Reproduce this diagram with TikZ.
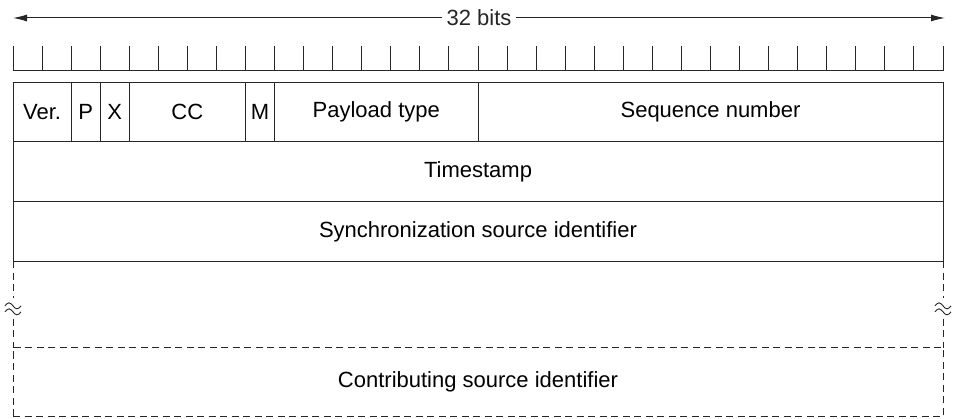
\documentclass[tikz,border=0pt]{standalone}
\usepackage{fontspec}
\setmainfont{Liberation Sans}
\usetikzlibrary{positioning,arrows.meta,calc}
\colorlet{myline}{black!85}
\newcommand{\bw}{29.0625pt} % width of one bit
\tikzset{
  >={Latex[length=14,width=7]},
  field/.style={draw=myline,line width=1pt,rectangle,inner sep=0,outer sep=0,
    minimum height=59pt,font=\fontsize{22}{26}\selectfont},
  field row/.style={field,minimum width=32*\bw,minimum height=60pt},
  field dashed/.style={field row,dash pattern=on 7pt off 4.5pt},
  tick/.style={myline,line width=1pt},
  brk/.style={myline,line width=0.9pt}
}

\begin{document}
\begin{tikzpicture}[x=1pt,y=-1pt]
  \useasboundingbox (0,0) rectangle (956,419);

  % Width arrow
  \coordinate (bl) at (13,18);
  \coordinate (br) at (945,18);
  \draw[<->,myline,line width=1pt] (bl) -- (br)
    node[midway,fill=white,inner xsep=5pt,font=\fontsize{22}{26}\selectfont] (bits) {32 bits};

  % Bit ruler
  \coordinate (r0) at (13,71);
  \coordinate (r1) at (943,71);
  \draw[tick] (r0) -- (r1);
  \foreach \i in {0,...,32}
    \draw[tick] ($(r0)+(\i*\bw,0)$) -- +(0,-25);

  % Header fields
  \node[field,minimum width=2*\bw,anchor=north west] (ver) at (13,82.5) {Ver.};
  \node[field,minimum width=\bw,right=0pt of ver] (p) {P};
  \node[field,minimum width=\bw,right=0pt of p] (x) {X};
  \node[field,minimum width=4*\bw,right=0pt of x] (cc) {CC};
  \node[field,minimum width=\bw,right=0pt of cc] (m) {M};
  \node[field,minimum width=7*\bw,right=0pt of m] (pt) {Payload type};
  \node[field,minimum width=16*\bw,right=0pt of pt] (seq) {Sequence number};

  \node[field row,below=0pt of ver.south west,anchor=north west] (ts) {Timestamp};
  \node[field row,below=0pt of ts] (ssrc) {Synchronization source identifier};

  % Contributing sources
  \node[field dashed,minimum height=68.5pt,below=86.5pt of ssrc] (csrc) {Contributing source identifier};
  \draw[field dashed] (ssrc.south west) -- (csrc.north west);
  \draw[field dashed] (ssrc.south east) -- (csrc.north east);

  % Break marks
  \coordinate (brkL) at ($(ssrc.south west)!0.53!(csrc.north west)$);
  \coordinate (brkR) at ($(ssrc.south east)!0.53!(csrc.north east)$);
  \foreach \c in {brkL,brkR} {
    \fill[white] ($(\c)+(-3,-9)$) rectangle ($(\c)+(3,9)$);
    \foreach \o in {-3,3}
      \draw[brk] ($(\c)+(-8,\o+1.5)$) sin +(4,-3) cos +(4,3) sin +(4,3) cos +(4,-3);
  }
\end{tikzpicture}
\end{document}
